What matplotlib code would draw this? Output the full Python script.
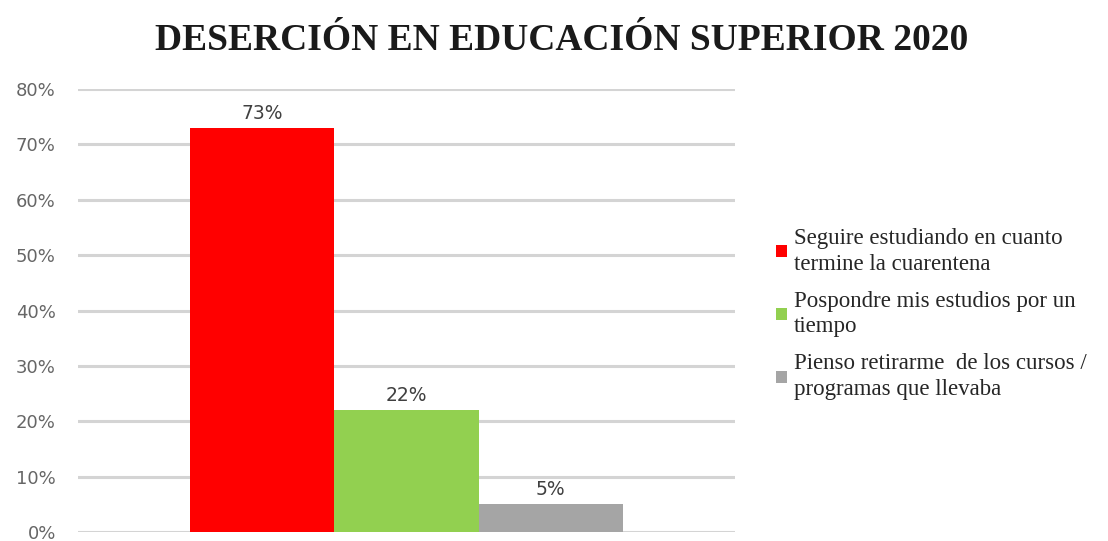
import matplotlib.pyplot as plt
from matplotlib.ticker import PercentFormatter

categories = [
    "Seguire estudiando en cuanto\ntermine la cuarentena",
    "Pospondre mis estudios por un\ntiempo",
    "Pienso retirarme  de los cursos /\nprogramas que llevaba",
]
values = [73, 22, 5]
colors = ["#FF0000", "#92D050", "#A5A5A5"]
yticks = [0, 10, 20, 30, 40, 50, 60, 70, 80]

fig = plt.figure(figsize=(11.08, 5.41), dpi=100)
ax = fig.add_axes([78 / 1108, 1 - 532 / 541, (735 - 78) / 1108, (532 - 89) / 541])

bar_w = 1.0
xs = [-1, 0, 1]
for x, v, c, lab in zip(xs, values, colors, categories):
    ax.bar(x, v, width=bar_w, color=c, label=lab, zorder=3)
    ax.text(x, v + 0.9, f"{v}%", ha="center", va="bottom", fontsize=13.5,
            color="#404040", family="DejaVu Sans")

ax.set_xlim(-2.28, 2.28)
ax.set_ylim(0, 80)
ax.set_yticks(yticks)
ax.yaxis.set_major_formatter(PercentFormatter(decimals=0))
ax.set_xticks([])
ax.tick_params(axis="y", length=0, pad=16, labelsize=13, labelcolor="#666666")
ax.grid(axis="y", color="#d4d4d4", linewidth=2.2, zorder=0)
for s in ax.spines.values():
    s.set_visible(False)

fig.text(562 / 1108, 1 - 40 / 541, "DESERCIÓN EN EDUCACIÓN SUPERIOR 2020",
         ha="center", va="center", fontsize=27, fontweight="bold",
         family="Liberation Serif", color="#1a1a1a")

leg = fig.legend(loc="center left", bbox_to_anchor=(765 / 1108, 1 - 314 / 541),
                 frameon=False, prop={"family": "Liberation Serif", "size": 16.5},
                 handlelength=0.45, handleheight=0.45, handletextpad=0.3,
                 labelspacing=0.7, borderpad=0)
for t in leg.get_texts():
    t.set_color("#262626")
    t.set_linespacing(1.3)

fig.savefig("out.png", dpi=100)
